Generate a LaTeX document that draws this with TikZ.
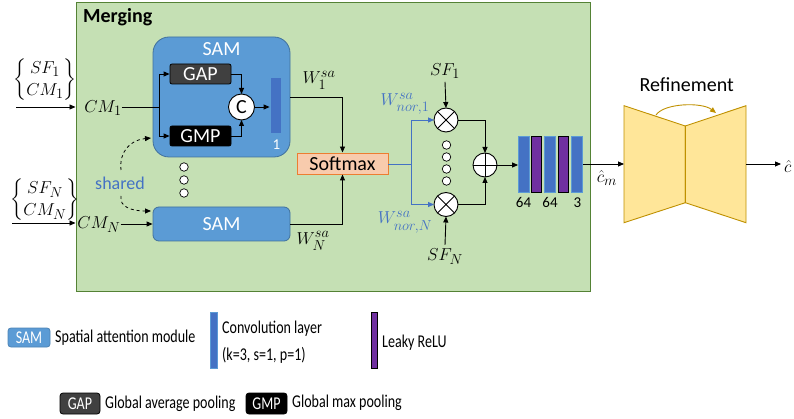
\documentclass[tikz,border=0pt]{standalone}
\usepackage{amsmath}
\usepackage{fontspec}
\setmainfont{Carlito}
\newfontfamily\legfont[FakeStretch=0.78]{Carlito}
\usetikzlibrary{arrows.meta,calc}
\definecolor{gfill}{HTML}{C5E0B4}
\definecolor{gborder}{HTML}{548235}
\definecolor{samfill}{HTML}{5B9BD5}
\definecolor{samborder}{HTML}{41719C}
\definecolor{convblue}{HTML}{4472C4}
\definecolor{convedge}{HTML}{5B9BD5}
\definecolor{lrelu}{HTML}{7030A0}
\definecolor{smfill}{HTML}{F8CBAD}
\definecolor{smborder}{HTML}{ED7D31}
\definecolor{reffill}{HTML}{FFE699}
\definecolor{refborder}{HTML}{BF9000}
\definecolor{bluetxt}{HTML}{4472C4}
\definecolor{gapfill}{HTML}{404040}
\tikzset{
  lbl/.style={inner sep=0pt, font=\fontsize{19}{22}\selectfont},
  small/.style={inner sep=0pt, font=\fontsize{15}{18}\selectfont},
  ln/.style={line width=0.9pt},
  arr/.style={ln, -{Triangle[length=6pt,width=5pt]}},
  bluearr/.style={arr, draw=bluetxt},
  samstyle/.style={draw=samborder, fill=samfill, line width=0.8pt, inner sep=0pt},
  poolbox/.style={draw=black, line width=0.8pt, rounded corners=2pt, inner sep=0pt, minimum width=61pt, minimum height=20pt, text=white, font=\fontsize{20}{24}\selectfont},
  convbar/.style={draw=convedge, fill=convblue, line width=0.8pt, inner sep=0pt, minimum width=11pt, minimum height=56pt},
  relubar/.style={draw=black, fill=lrelu, line width=0.8pt, inner sep=0pt, minimum width=10.5pt, minimum height=56pt},
  opnode/.style={circle, draw=black, fill=white, line width=0.9pt, minimum size=24pt, inner sep=0pt, outer sep=0pt},
  dotnode/.style={circle, draw=black, fill=white, line width=0.7pt, minimum size=8.5pt, inner sep=0pt},
  leg/.style={inner sep=0pt, anchor=west, font=\legfont\fontsize{18}{21}\selectfont},
  legbox/.style={line width=0.8pt, rounded corners=3pt, inner sep=0pt, text=white, font=\legfont\fontsize{18}{21}\selectfont},
}
\begin{document}
\begin{tikzpicture}[x=1pt,y=-1pt]
\useasboundingbox (0,0) rectangle (794,419);

% Merging box
\node[draw=gborder, fill=gfill, line width=1pt, minimum width=514pt, minimum height=288pt, inner sep=0pt] (green) at (333,147) {};
\node[inner sep=0pt, anchor=west, font=\bfseries\fontsize{20}{24}\selectfont] (merge) at (83,17) {Merging};

% inputs
\node[lbl] (in1txt) at (45,80) {$\begin{Bmatrix} SF_1\\ CM_1\end{Bmatrix}$};
\node[lbl] (inNtxt) at (45,200) {$\begin{Bmatrix} SF_N\\ CM_N\end{Bmatrix}$};
\coordinate (in1) at (16,107);
\coordinate (inN) at (12,223);
\draw[arr] (in1) -- (in1 -| green.west);
\draw[arr] (inN) -- (inN -| green.west);
\node[lbl] (cm1) at (103,108) {$CM_1$};
\node[lbl] (cmn) at (99,225) {$CM_N$};

% big SAM
\node[samstyle, rounded corners=16pt, minimum width=137pt, minimum height=120pt] (sam1) at (221.5,97) {};
\node[inner sep=0pt, text=white, font=\fontsize{20}{24}\selectfont] (samtitle) at (221.5,49) {SAM};
\node[poolbox, fill=gapfill] (gap) at (200.5,74) {GAP};
\node[poolbox, fill=black] (gmp) at (200.5,136) {GMP};
\node[opnode, minimum size=26pt, font=\fontsize{20}{24}\selectfont] (cc) at (241.5,107) {C};
\node[draw=convedge, fill=convblue, line width=0.8pt, inner sep=0pt, minimum width=11pt, minimum height=56pt] (bar) at (275.5,105.5) {};
\node[small, text=white] (one) at (276.5,145) {1};
\coordinate (split) at (159,107);
\draw[ln] (cm1.east |- split) -- (split);
\draw[arr] (split) |- (gap.west);
\draw[arr] (split) |- (gmp.west);
\draw[arr] (gap.east) -| (cc.north);
\draw[arr] (gmp.east) -| (cc.south);
\draw[arr] (cc.east) -- (cc.east -| bar.west);

% small SAM
\node[samstyle, rounded corners=6pt, minimum width=137pt, minimum height=34pt, text=white, font=\fontsize{20}{24}\selectfont] (samN) at (221.5,224) {SAM};
\draw[arr] (samN.west -| cmn.east) -- (samN.west);

% dots
\node[dotnode] (d1) at (184,167) {};
\node[dotnode] (d2) at (184,180) {};
\node[dotnode] (d3) at (184,193) {};

% shared
\node[inner sep=0pt, text=bluetxt, font=\fontsize{18}{21}\selectfont] (shared) at (120,183) {shared};
\coordinate (sh1a) at (121,170);
\coordinate (sh1b) at (151,138);
\coordinate (sh2a) at (121,196);
\coordinate (sh2b) at (151,211);
\draw[line width=0.8pt, dashed, -{Triangle[length=6pt,width=5pt]}] (sh1a) .. controls (119,152) and (130,140) .. (sh1b);
\draw[line width=0.8pt, dashed, -{Triangle[length=6pt,width=5pt]}] (sh2a) .. controls (119,207) and (132,211) .. (sh2b);

% softmax
\node[draw=smborder, fill=smfill, line width=0.9pt, minimum width=91pt, minimum height=21pt, inner sep=0pt, font=\fontsize{20}{24}\selectfont] (soft) at (342.5,163.5) {Softmax};
\coordinate (w1c) at (342.5,97);
\draw[arr] (sam1.east |- w1c) -| (soft.north);
\draw[arr] (samN.east) -| (soft.south);
\node[lbl] (w1) at (319,80) {$W_1^{sa}$};
\node[lbl] (wN) at (313,241) {$W_N^{sa}$};

% multiply
\node[opnode] (m1) at (446,120) {};
\node[opnode] (mN) at (446,204.5) {};
\draw[line width=0.9pt] (m1.north west) -- (m1.south east) (m1.north east) -- (m1.south west);
\draw[line width=0.9pt] (mN.north west) -- (mN.south east) (mN.north east) -- (mN.south west);
\coordinate (bs) at (411,164);
\draw[ln, draw=bluetxt] (soft.east |- bs) -- (bs);
\draw[bluearr] (bs) |- (m1.west);
\draw[bluearr] (bs) |- (mN.west);
\node[lbl, text=bluetxt] (wn1) at (405,104) {$W_{nor,1}^{sa}$};
\node[lbl, text=bluetxt] (wnN) at (405,222) {$W_{nor,N}^{sa}$};
\node[lbl] (sf1) at (445,71) {$SF_1$};
\node[lbl] (sfN) at (445,257) {$SF_N$};
\draw[arr] (sf1.south) ++(0,3) -- (m1.north);
\draw[arr] (sfN.north) ++(0,-4) -- (mN.south);
\node[dotnode] (e1) at (446.5,145) {};
\node[dotnode] (e2) at (446.5,157) {};
\node[dotnode] (e3) at (446.5,169) {};
\node[dotnode] (e4) at (446.5,181) {};

% plus
\node[opnode] (plus) at (485,165) {};
\draw[line width=0.9pt] (plus.north) -- (plus.south) (plus.west) -- (plus.east);
\draw[arr] (m1.east) -| (plus.north);
\draw[arr] (mN.east) -| (plus.south);

% conv stack
\node[convbar] (b1) at (524,164.7) {};
\node[relubar] (b2) at (536.5,164.7) {};
\node[convbar] (b3) at (550,164.7) {};
\node[relubar] (b4) at (563.5,164.7) {};
\node[convbar] (b5) at (577,164.7) {};
\draw[arr] (plus.east) -- (plus.east -| b1.west);
\node[small] (l1) at (523.5,202.5) {64};
\node[small] (l2) at (550,202.5) {64};
\node[small] (l3) at (577.5,202.5) {3};

% refinement
\coordinate (rl1) at (624,105.7);
\coordinate (rm1) at (685.3,126);
\coordinate (rm2) at (685.3,202.7);
\coordinate (rl2) at (624,222.7);
\coordinate (rr1) at (746,105.7);
\coordinate (rr2) at (746,222.7);
\draw[draw=refborder, fill=reffill, line width=0.9pt, line join=miter] (rl1) -- (rm1) -- (rm2) -- (rl2) -- cycle;
\draw[draw=refborder, fill=reffill, line width=0.9pt, line join=miter] (rm1) -- (rr1) -- (rr2) -- (rm2) -- cycle;
\coordinate (refin) at (624,164);
\coordinate (refout) at (746,164);
\coordinate (outend) at (781,164);
\coordinate (skipa) at (656,115);
\coordinate (skipb) at (716,113);
\draw[line width=0.9pt, draw=refborder, -{Triangle[length=6pt,width=5pt]}] (skipa) .. controls (664,103) and (702,102) .. (skipb);
\node[inner sep=0pt, font=\fontsize{20}{24}\selectfont] (reftitle) at (686.7,85) {Refinement};
\draw[arr] (b5.east |- refin) -- (refin);
\node[lbl] (cm) at (607,178) {$\hat{c}_m$};
\draw[arr] (refout) -- (outend);
\node[lbl, anchor=west] (chat) at (784,167) {$\hat{c}$};

% legend
\node[legbox, fill=samfill, draw=samfill!85!black, minimum width=42pt, minimum height=19pt] (lsam) at (29,337.5) {SAM};
\node[leg] (lsamt) at (55,338) {Spatial attention module};
\node[draw=convedge, fill=convblue, line width=0.6pt, inner sep=0pt, minimum width=7pt, minimum height=56pt] (lconv) at (213.5,340) {};
\node[leg] (lconv1) at (222,329) {Convolution layer};
\node[leg] (lconv2) at (222,355) {(k=3, s=1, p=1)};
\node[draw=black, fill=lrelu, line width=0.8pt, inner sep=0pt, minimum width=6pt, minimum height=56pt] (lrelu) at (374,340) {};
\node[leg] (lrelut) at (382,343) {Leaky ReLU};
\node[legbox, fill=gapfill, draw=black, minimum width=40pt, minimum height=21pt] (lgap) at (80,403.5) {GAP};
\node[leg] (lgapt) at (105,404) {Global average pooling};
\node[legbox, fill=black, draw=black, minimum width=41pt, minimum height=21pt] (lgmp) at (266.5,403.5) {GMP};
\node[leg] (lgmpt) at (292,403) {Global max pooling};
\end{tikzpicture}
\end{document}
